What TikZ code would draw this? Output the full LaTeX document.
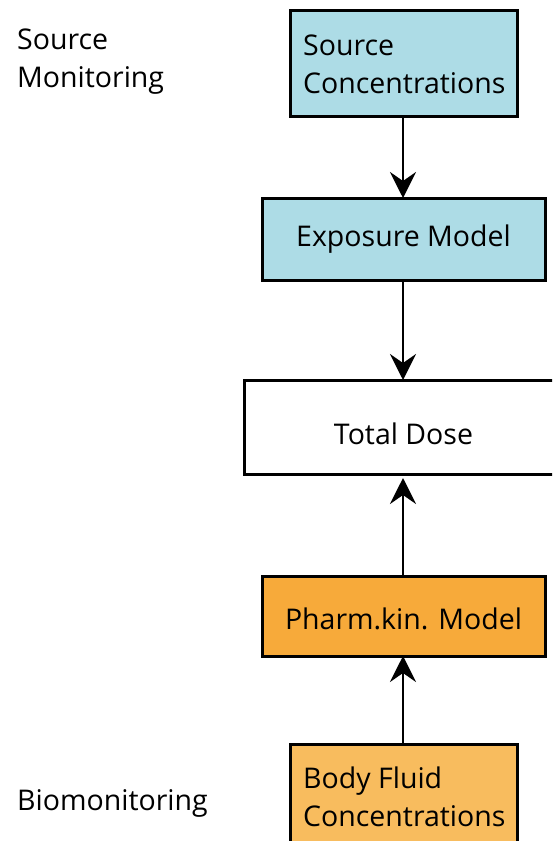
\documentclass[tikz,border=0pt]{standalone}
\usepackage{fontspec}
\setmainfont{Open Sans}
\usetikzlibrary{arrows.meta}
\definecolor{lblue}{RGB}{173,220,230}
\definecolor{dorange}{RGB}{247,170,58}
\definecolor{lorange}{RGB}{248,188,94}
\tikzset{
  box/.style={draw=black, line width=3pt},
  txt/.style={font=\fontsize{28.5}{38}\selectfont, inner sep=0pt},
  lbl/.style={txt, anchor=base west, align=left},
  conn/.style={line width=2.4pt, -{Stealth[length=26pt,width=26pt,inset=9pt]}},
}
\begin{document}
\begin{tikzpicture}[x=1pt,y=-1pt]
\useasboundingbox (0,0) rectangle (552,841);
\begin{scope}
\clip (0,0) rectangle (552,841);
\draw[box, fill=lblue] (290,10) rectangle (517,116);
\draw[box, fill=lblue] (262,198) rectangle (545,280);
\draw[box, fill=white] (244,380) rectangle (570,474);
\draw[box, fill=dorange] (262,576) rectangle (545,656);
\draw[box, fill=lorange] (290,744) rectangle (517,860);
\end{scope}
\coordinate (c1) at (403,116);
\coordinate (c2t) at (403,198);
\coordinate (c2b) at (403,280);
\coordinate (c3t) at (403,380);
\coordinate (c3b) at (403,478);
\coordinate (c4t) at (403,576);
\coordinate (c4b) at (403,656);
\coordinate (c5t) at (403,744);
\node[lbl] (sc) at (303,93) {Source\\Concentrations};
\node[txt] (em) at (403.5,239) {Exposure Model};
\node[txt] (td) at (403.5,434) {Total Dose};
\node[txt] (pk) at (403.5,619) {Pharm.kin. Model};
\node[lbl] (bf) at (303,826) {Body Fluid\\Concentrations};
\node[lbl] (sm) at (17,87) {Source\\Monitoring};
\node[lbl] (bm) at (17,810) {Biomonitoring};
\draw[conn] (c1) -- (c2t);
\draw[conn] (c2b) -- (c3t);
\draw[conn] (c4t) -- (c3b);
\draw[conn] (c5t) -- (c4b);
\end{tikzpicture}
\end{document}
